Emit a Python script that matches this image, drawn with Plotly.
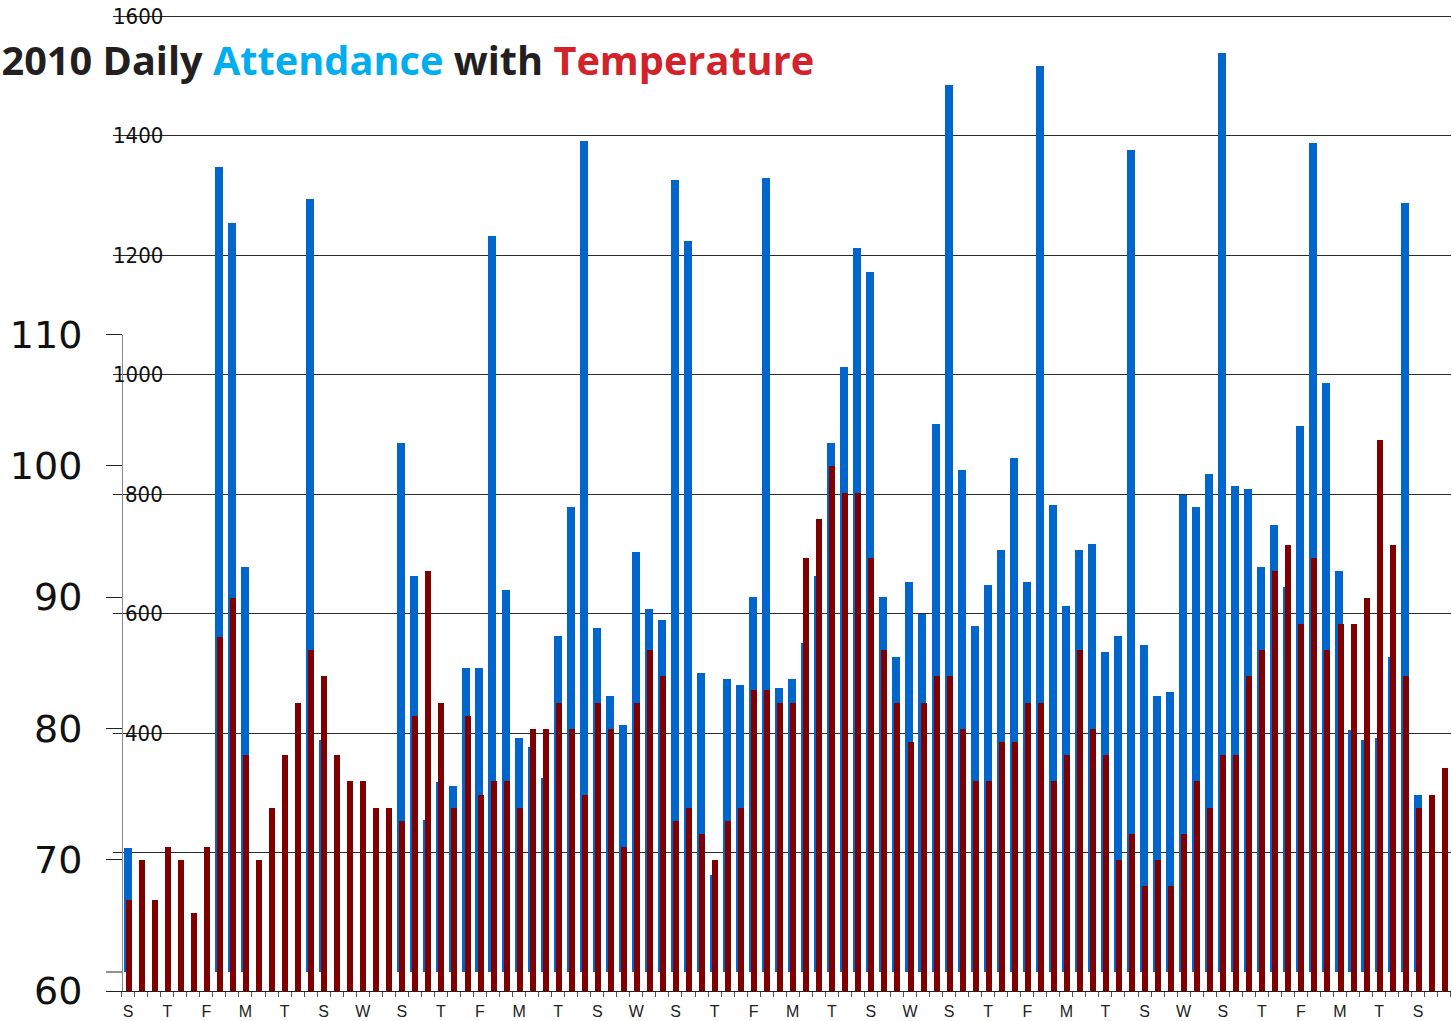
import plotly.graph_objects as go

# ---- data -------------------------------------------------------------
days = list(range(102))  # consecutive days, first day is a Saturday

attendance = [
    207, None, None, None, None, None, None, 1348, 1254, 677,
    None, None, None, None, 1294, 388, None, None, None, None,
    None, 885, 663, 254, 318, 312, 508, 508, 1231, 639,
    391, 376, 325, 563, 779, 1390, 576, 462, 413, 703,
    607, 589, 1326, 1224, 500, 162, 490, 480, 627, 1329,
    476, 490, 550, 663, 885, 1012, 1211, 1171, 627, 528,
    652, 599, 917, 1485, 840, 579, 648, 706, 861, 652,
    1517, 782, 613, 706, 716, 535, 563, 1376, 547, 462,
    468, 798, 779, 833, 1538, 814, 808, 677, 748, 645,
    914, 1387, 985, 671, 405, 388, 391, 528, 1287, 296,
    None, None,
]

temperature = [
    67, 70, 67, 71, 70, 66, 71, 87, 90, 78,
    70, 74, 78, 82, 86, 84, 78, 76, 76, 74,
    74, 73, 81, 92, 82, 74, 81, 75, 76, 76,
    74, 80, 80, 82, 80, 75, 82, 80, 71, 82,
    86, 84, 73, 74, 72, 70, 73, 74, 83, 83,
    82, 82, 93, 96, 100, 98, 98, 93, 86, 82,
    79, 82, 84, 84, 80, 76, 76, 79, 79, 82,
    82, 76, 78, 86, 80, 78, 70, 72, 68, 70,
    68, 72, 76, 74, 78, 78, 84, 86, 92, 94,
    88, 93, 86, 88, 88, 90, 102, 94, 84, 74,
    75, 77,
]

day_labels = ["S", "T", "F", "M", "T", "S", "W"] * 4 + ["S", "T", "F", "M", "T", "S"]
label_days = days[::3]

attendance_ticks = [200, 400, 600, 800, 1000, 1200, 1400, 1600]
attendance_labels = ["400", "600", "800", "1000", "1200", "1400", "1600"]
attendance_label_vals = [400, 600, 800, 1000, 1200, 1400, 1600]
temperature_ticks = [60, 70, 80, 90, 100, 110]

# ---- layout geometry --------------------------------------------------
W, H = 1452, 1021
ML, MR, MT, MB = 113, 1, 10, 30
PW = W - ML - MR
PH = H - MT - MB

BLUE = "#0066CC"
RED = "#800000"

fig = go.Figure()

fig.add_trace(go.Bar(
    x=days, y=attendance, xaxis="x", yaxis="y",
    marker=dict(color=BLUE, line=dict(width=0)),
    width=0.614, offset=-0.35, name="Attendance", showlegend=False,
))
fig.add_trace(go.Bar(
    x=days, y=temperature, xaxis="x", yaxis="y2",
    marker=dict(color=RED, line=dict(width=0)),
    width=0.46, offset=-0.19, name="Temperature", showlegend=False,
))

# blue axis scale: 0 at y=972 px, 1600 at y=16 px
px_per_unit = (972 - 16) / 1600
y_lo = -(MT + PH - 972) / px_per_unit
y_hi = (972 - MT) / px_per_unit

# temperature axis: 60 at bottom (991), 110 at y=334.5
t_top_frac = (MT + PH - 334.5) / PH

# x scale: day 0 centre at 128.2 px, 13.03 px per day
x_lo = (ML - 128.2) / 13.03
x_hi = (ML + PW - 128.2) / 13.03

fig.update_layout(
    width=W, height=H,
    margin=dict(l=ML, r=MR, t=MT, b=MB, pad=0, autoexpand=False),
    paper_bgcolor="white", plot_bgcolor="rgba(0,0,0,0)",
    barmode="overlay", bargap=0,
    title=dict(
        text='<b>2010 Daily <span style="color:#00AEEF">Attendance</span> with '
             '<span style="color:#D2232A">Temperature</span></b>',
        font=dict(family="Open Sans, Noto Sans, sans-serif", size=39.7, color="#231F20"),
        xref="container", x=0.001, xanchor="left",
        yref="container", y=1 - 61 / H, yanchor="middle",
        automargin=False,
    ),
    xaxis=dict(
        domain=[0, 1], range=[x_lo, x_hi], anchor="y", automargin=False,
        showgrid=False, zeroline=False,
        showline=True, linecolor="#222", linewidth=1,
        tickmode="array", tickvals=label_days, ticktext=day_labels,
        ticks="", ticklabelstandoff=6,
        tickfont=dict(family="Liberation Sans, Arial, sans-serif", size=16, color="#222"),
        minor=dict(ticks="outside", tickmode="linear", tick0=-0.5, dtick=1,
                   ticklen=5, tickcolor="#555", tickwidth=1, showgrid=False),
    ),
    yaxis=dict(
        domain=[0, 1], range=[y_lo, y_hi], anchor="x", automargin=False,
        tickmode="array", tickvals=attendance_ticks,
        showticklabels=False, ticks="",
        showgrid=True, gridcolor="#2b2b2b", gridwidth=1,
        zeroline=False, showline=False,
    ),
    yaxis2=dict(
        domain=[0, t_top_frac], range=[60, 110], automargin=False,
        anchor="free", position=(122 - ML) / PW,
        tickmode="array", tickvals=temperature_ticks,
        ticks="outside", ticklen=16, tickcolor="#222", tickwidth=1,
        showline=True, linecolor="#888", linewidth=1,
        showgrid=False, zeroline=False,
        ticklabelstandoff=16,
        tickfont=dict(family="DejaVu Sans, sans-serif", size=38, color="#111"),
    ),
)

# attendance tick labels drawn over the grid lines (right-aligned)
for v, lab in zip(attendance_label_vals, attendance_labels):
    fig.add_annotation(
        x=(165 - ML) / PW, xref="paper", xanchor="right",
        y=v, yref="y", yanchor="middle",
        text=lab, showarrow=False,
        font=dict(family="Liberation Sans Narrow, DejaVu Sans Condensed, Arial Narrow, sans-serif",
                  size=22, color="#111"),
    )

# small tick at attendance zero
fig.add_shape(type="line", xref="paper", yref="y",
              x0=(106 - ML) / PW, x1=(122 - ML) / PW, y0=0, y1=0,
              line=dict(color="#222", width=1))

fig.write_html("out.html", config={"displayModeBar": False},
               post_script="document.body.style.margin='0';")
